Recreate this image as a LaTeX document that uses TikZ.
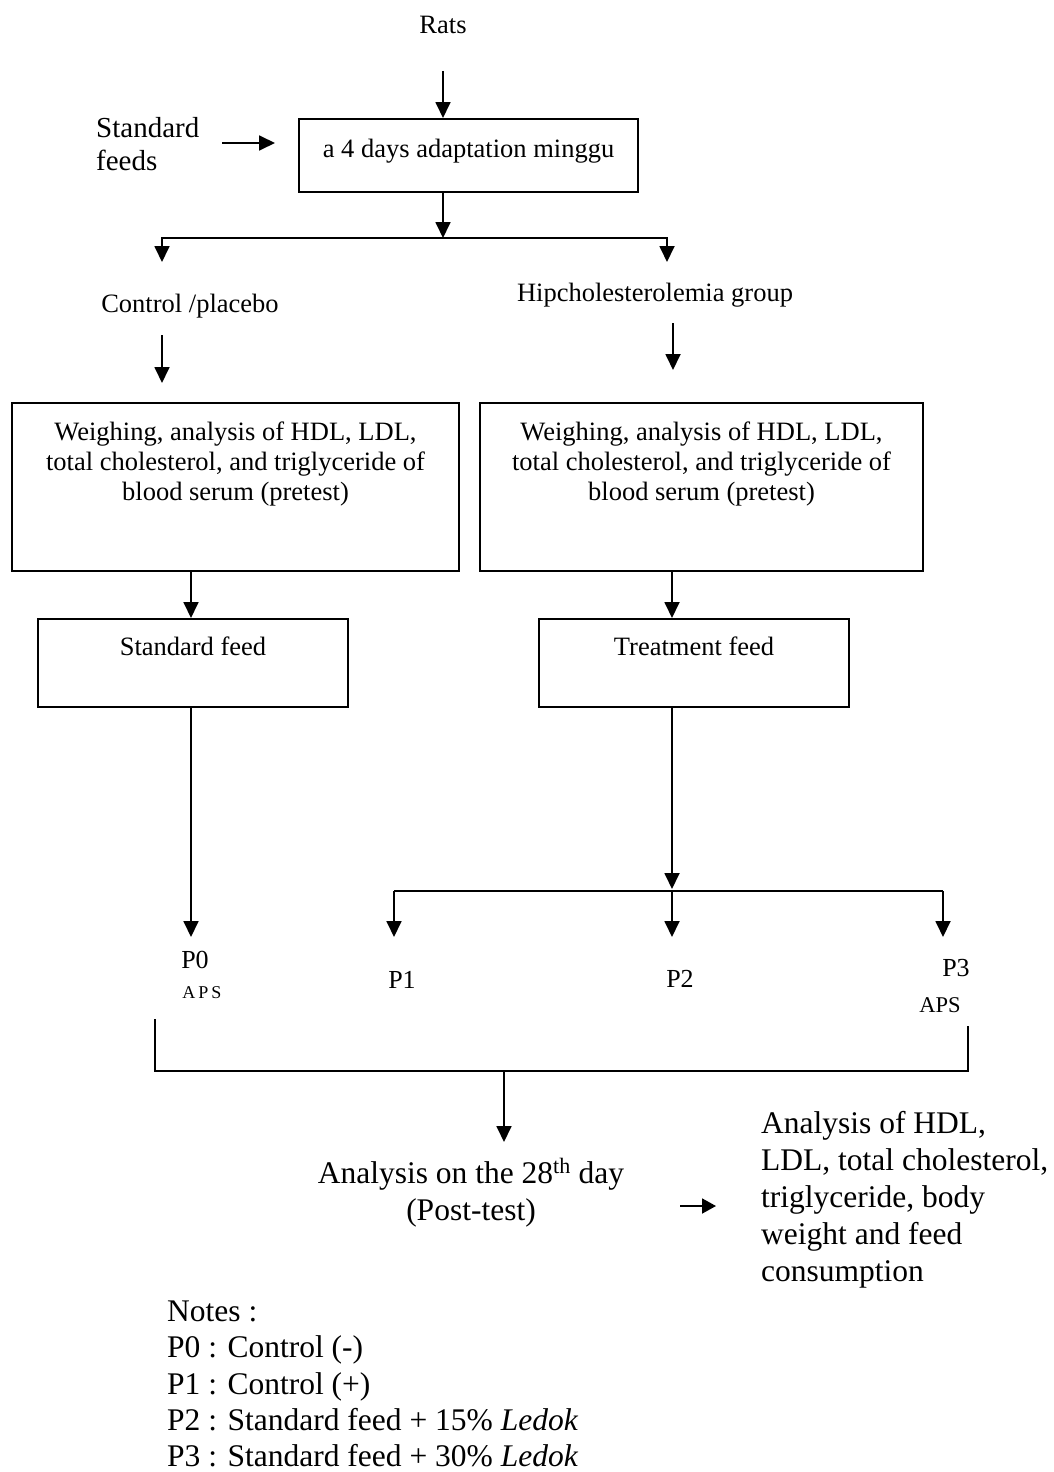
\documentclass[tikz,border=0pt]{standalone}
\usepackage{fontspec}
\setmainfont{Liberation Serif}
\usetikzlibrary{arrows.meta}
\begin{document}
\begin{tikzpicture}[x=1pt,y=-1pt,
  arr/.style={line width=1.8pt, -{Triangle[length=16pt,width=15pt]}},
  sarr/.style={line width=1.8pt, -{Triangle[length=14pt,width=15pt]}},
  ln/.style={line width=1.8pt},
  box/.style={draw, line width=2pt, inner sep=0pt, anchor=north west, font=\fontsize{26.5}{30}\selectfont},
  txt/.style={inner sep=0pt, anchor=base, font=\fontsize{26.5}{30}\selectfont},
  lbl/.style={inner sep=0pt, anchor=base, font=\fontsize{26}{30}\selectfont},
  big/.style={inner sep=0pt, font=\fontsize{31.5}{37}\selectfont},
]
\fill[white] (0,0) rectangle (1053,1472);
\useasboundingbox (0,0) rectangle (1053,1472);

% texts (multi-line nodes: base = baseline of last line)
\node[txt] (rats) at (443,34) {Rats};
\node[inner sep=0pt, anchor=base west, align=left, font=\fontsize{29}{33}\selectfont] (feeds) at (96,170.5) {Standard\\feeds};
\node[txt] (ctrl) at (190,312) {Control /placebo};
\node[txt] (hip) at (655,301) {Hipcholesterolemia group};

% boxes
\node[box] (adapt) at (298,118) {\begin{minipage}[c][73pt][t]{339pt}\centering\vspace*{20pt}a 4 days adaptation minggu\end{minipage}};
\node[box] (l1) at (11,402) {\begin{minipage}[c][168pt][t]{447pt}\centering\vspace*{18.4pt}Weighing, analysis of HDL, LDL,\\ total cholesterol, and triglyceride of\\ blood serum (pretest)\end{minipage}};
\node[box] (r1) at (479,402) {\begin{minipage}[c][168pt][t]{443pt}\centering\vspace*{18.4pt}Weighing, analysis of HDL, LDL,\\ total cholesterol, and triglyceride of\\ blood serum (pretest)\end{minipage}};
\node[box] (l2) at (37,618) {\begin{minipage}[c][88pt][t]{310pt}\centering\vspace*{17.4pt}Standard feed\end{minipage}};
\node[box] (r2) at (538,618) {\begin{minipage}[c][88pt][t]{310pt}\centering\vspace*{17.4pt}Treatment feed\end{minipage}};

% group labels
\node[lbl] (p0) at (195,968.6) {P0};
\node[inner sep=0pt, anchor=base, font=\fontsize{18}{20}\selectfont] (aps0) at (202,998) {A\kern3pt P\kern3pt S};
\node[lbl] (p1) at (402,988.6) {P1};
\node[lbl] (p2) at (680,987.6) {P2};
\node[lbl] (p3) at (956,976.6) {P3};
\node[inner sep=0pt, anchor=base, font=\fontsize{22.5}{25}\selectfont] (aps3) at (940,1012.5) {APS};

% bottom texts
\node[big, anchor=base, align=center] (post) at (471,1220) {Analysis on the 28\textsuperscript{th} day\\(Post-test)};
\node[big, anchor=base west, align=left] (res) at (761,1281.5) {Analysis of HDL,\\LDL, total cholesterol,\\triglyceride, body\\weight and feed\\consumption};
\node[inner sep=0pt, anchor=base west, align=left, font=\fontsize{31.5}{36.2}\selectfont] (notes) at (167,1466.5) {Notes :\\P0 : Control (-)\\P1 : Control (+)\\P2 : Standard feed + 15\% \textit{Ledok}\\P3 : Standard feed + 30\% \textit{Ledok}};

% coordinates
\coordinate (ratsout) at (443,71);
\coordinate (fa) at (222,143);
\coordinate (fb) at (275,143);
\coordinate (j1) at (443,238);
\coordinate (cl) at (162,262);
\coordinate (cr) at (667,262);
\coordinate (ca) at (162,335);
\coordinate (cb) at (162,383);
\coordinate (ha) at (673,323);
\coordinate (hb) at (673,370);
\coordinate (j2) at (672,889);
\coordinate (d0) at (191,937);
\coordinate (d1) at (394,937);
\coordinate (d2) at (672,937);
\coordinate (d3) at (943,937);
\coordinate (bl) at (155,1019);
\coordinate (br) at (968,1026);
\coordinate (stem) at (504,1071);
\coordinate (stemend) at (504,1142);
\coordinate (sa) at (680,1206);
\coordinate (sb) at (716,1206);

% connectors
\draw[arr] (ratsout) -- (ratsout |- adapt.north);
\draw[arr] (fa) -- (fb);
\draw[arr] (adapt.south -| j1) -- (j1);
\draw[arr] (j1) -| (cl);
\draw[arr] (j1) -| (cr);
\draw[arr] (ca) -- (cb);
\draw[arr] (ha) -- (hb);
\draw[arr] (l1.south -| 191,0) -- (l2.north -| 191,0);
\draw[arr] (r1.south -| 672,0) -- (r2.north -| 672,0);
\draw[arr] (l2.south -| d0) -- (d0);
\draw[arr] (r2.south -| j2) -- (j2);
\draw[ln] (d1 |- 0,891) -- (d3 |- 0,891);
\draw[arr] (d1 |- 0,891) -- (d1);
\draw[arr] (d2 |- 0,891) -- (d2);
\draw[arr] (d3 |- 0,891) -- (d3);
\draw[ln] (bl) -- (bl |- stem) -- (br |- stem) -- (br);
\draw[arr] (stem) -- (stemend);
\draw[sarr] (sa) -- (sb);
\end{tikzpicture}
\end{document}
